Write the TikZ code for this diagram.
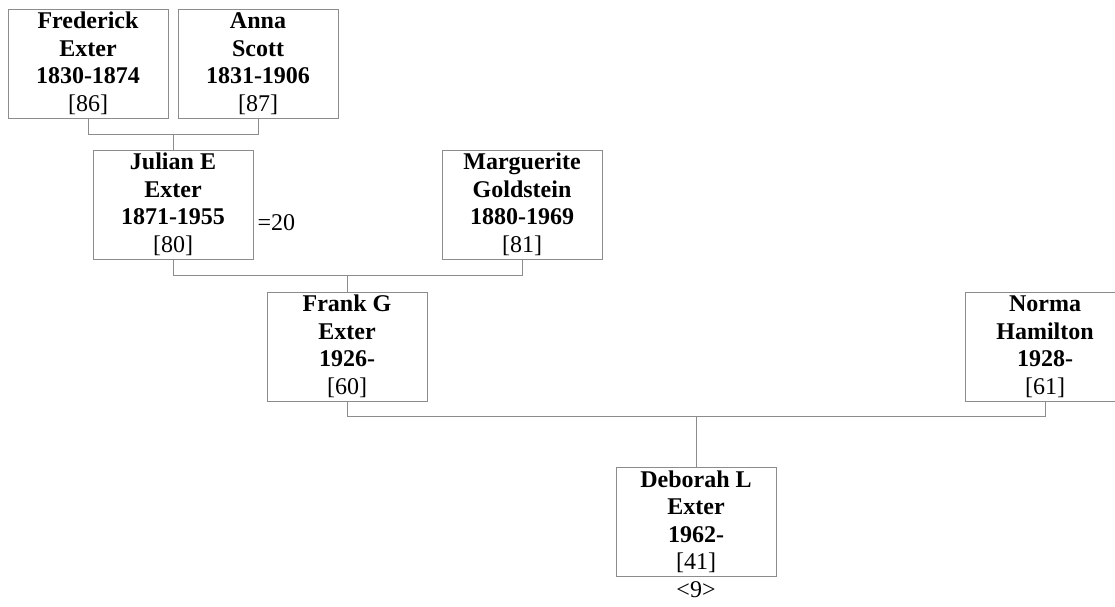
\documentclass[tikz,border=0pt]{standalone}
\usepackage{fontspec}
\setmainfont{Liberation Serif}
\usetikzlibrary{positioning}
\definecolor{linegray}{RGB}{140,140,140}
\newcommand{\persontext}[4]{\textbf{#1}\\\textbf{#2}\\\textbf{#3}\\{[#4]}}

\begin{document}
\begin{tikzpicture}[
    x=1pt, y=-1pt,
    % Node styles
    person/.style={
        rectangle, draw=linegray, line width=1pt, fill=white,
        minimum width=160pt, minimum height=109pt, inner sep=0pt,
        align=center, font=\fontsize{24}{27.5}\selectfont,
    },
    note/.style={
        inner sep=0pt, font=\fontsize{24}{27.5}\selectfont,
    },
    % family lines
    link/.style={draw=linegray, line width=1pt},
]
\useasboundingbox (0,0) rectangle (1115,606);

% --- generations ---
\node[person] (fred)    at (88,63.5)   {\persontext{Frederick}{Exter}{1830-1874}{86}};
\node[person] (anna)    at (258,63.5)  {\persontext{Anna}{Scott}{1831-1906}{87}};
\node[person] (julian)  at (173,204.5) {\persontext{Julian E}{Exter}{1871-1955}{80}};
\node[person] (marg)    at (522,204.5) {\persontext{Marguerite}{Goldstein}{1880-1969}{81}};
\node[person] (frank)   at (347,346.5) {\persontext{Frank G}{Exter}{1926-}{60}};
\node[person] (norma)   at (1045,346.5) {\persontext{Norma}{Hamilton}{1928-}{61}};
\node[person] (deborah) at (696,522)   {\persontext{Deborah L}{Exter}{1962-}{41}};

% --- notes ---
\node[note, right=4pt of julian, yshift=-18pt] (juliannote) {=20};
\node[note, below=4pt of deborah] (deborahnote) {<9>};

% --- family lines ---
\draw[link] (fred.south) -- ++(0,16) coordinate (fredanna) -| (anna.south);
\draw[link] (julian.north) -- (julian.north |- fredanna);

\draw[link] (julian.south) -- ++(0,16) coordinate (julianmarg) -| (marg.south);
\draw[link] (frank.north) -- (frank.north |- julianmarg);

\draw[link] (frank.south) -- ++(0,15) coordinate (franknorma) -| (norma.south);
\draw[link] (deborah.north) -- (deborah.north |- franknorma);

\end{tikzpicture}
\end{document}
